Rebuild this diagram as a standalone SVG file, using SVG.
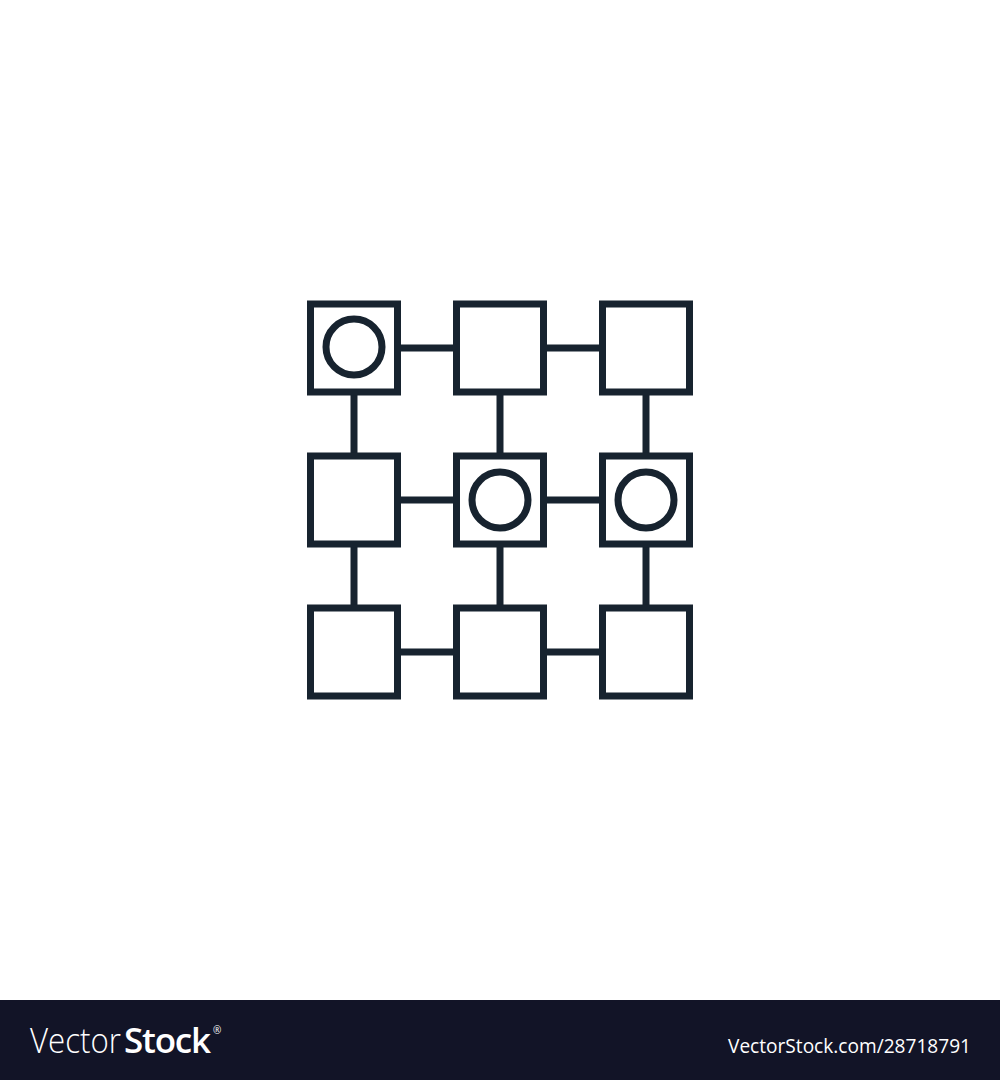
<svg xmlns="http://www.w3.org/2000/svg" width="1000" height="1080" viewBox="0 0 1000 1080">
<style>
.box{fill:none;stroke:#17232f;stroke-width:7}
.dot{fill:none;stroke:#17232f;stroke-width:7}
.link{stroke:#17232f;stroke-width:7;fill:none}
.wm{fill:#ffffff;font-family:"Open Sans","DejaVu Sans",sans-serif}
</style>
<rect x="0" y="0" width="1000" height="1080" fill="#ffffff"/>
<g id="connectors">
<line class="link" x1="401" y1="348" x2="453" y2="348"/>
<line class="link" x1="547" y1="348" x2="599" y2="348"/>
<line class="link" x1="401" y1="500" x2="453" y2="500"/>
<line class="link" x1="547" y1="500" x2="599" y2="500"/>
<line class="link" x1="401" y1="652" x2="453" y2="652"/>
<line class="link" x1="547" y1="652" x2="599" y2="652"/>
<line class="link" x1="354" y1="395" x2="354" y2="453"/>
<line class="link" x1="500" y1="395" x2="500" y2="453"/>
<line class="link" x1="646" y1="395" x2="646" y2="453"/>
<line class="link" x1="354" y1="547" x2="354" y2="605"/>
<line class="link" x1="500" y1="547" x2="500" y2="605"/>
<line class="link" x1="646" y1="547" x2="646" y2="605"/>
</g>
<g id="n00"><rect class="box" x="310.5" y="304" width="87" height="88"/><circle class="dot" cx="354" cy="347" r="28"/></g>
<g id="n01"><rect class="box" x="456.5" y="304" width="87" height="88"/></g>
<g id="n02"><rect class="box" x="602.5" y="304" width="87" height="88"/></g>
<g id="n10"><rect class="box" x="310.5" y="456" width="87" height="88"/></g>
<g id="n11"><rect class="box" x="456.5" y="456" width="87" height="88"/><circle class="dot" cx="500" cy="500" r="28"/></g>
<g id="n12"><rect class="box" x="602.5" y="456" width="87" height="88"/><circle class="dot" cx="646" cy="500" r="28"/></g>
<g id="n20"><rect class="box" x="310.5" y="608" width="87" height="88"/></g>
<g id="n21"><rect class="box" x="456.5" y="608" width="87" height="88"/></g>
<g id="n22"><rect class="box" x="602.5" y="608" width="87" height="88"/></g>
<g id="footer">
<rect x="0" y="1000" width="1000" height="80" fill="#121427"/>
<text class="wm" x="30" y="1053" font-size="35" font-weight="300" textLength="91" lengthAdjust="spacingAndGlyphs">Vector</text>
<text class="wm" x="124" y="1053" font-size="35" font-weight="600" letter-spacing="-1.2">Stock</text>
<text class="wm" x="213" y="1034" font-size="10">®</text>
<text class="wm" x="728" y="1053" font-size="20" textLength="243" lengthAdjust="spacingAndGlyphs">VectorStock.com/28718791</text>
</g>
</svg>
